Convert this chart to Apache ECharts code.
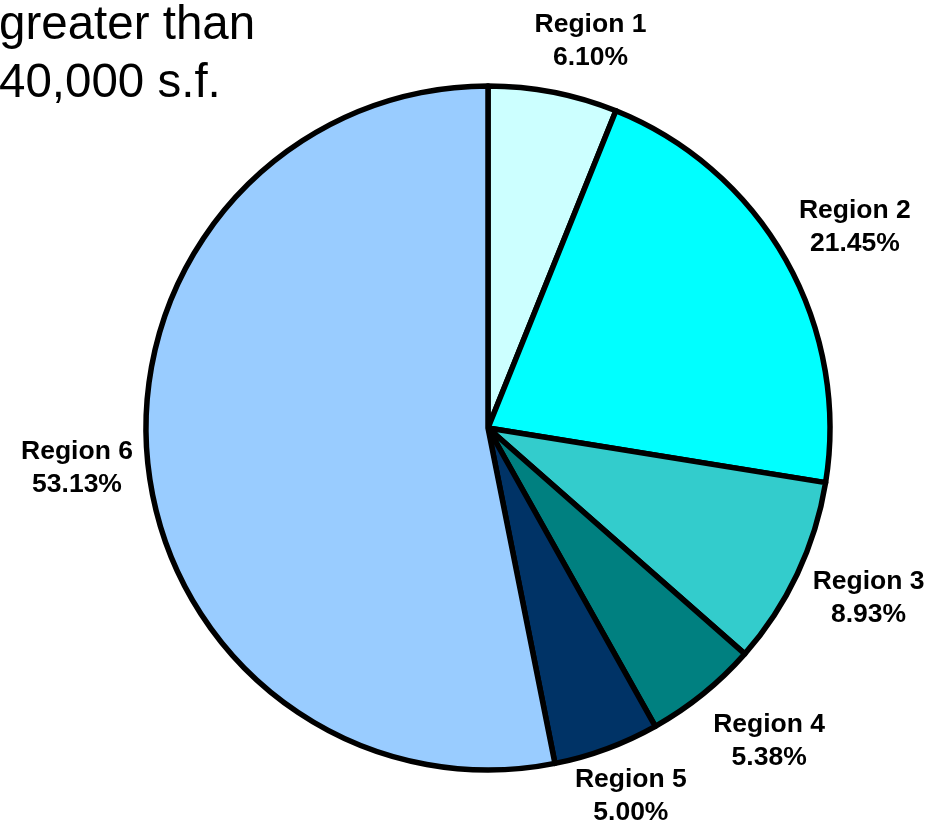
<!DOCTYPE html>
<html>
<head>
<meta charset="utf-8">
<script src="https://cdn.jsdelivr.net/npm/echarts@6/dist/echarts.min.js"></script>
<style>
  html, body { margin: 0; padding: 0; background: #fff; }
  #chart { width: 946px; height: 830px; }
</style>
</head>
<body>
<div id="chart"></div>
<script>
// Share of space by region (percent)
const regions = ['Region 1', 'Region 2', 'Region 3', 'Region 4', 'Region 5', 'Region 6'];
const shares = [6.10, 21.45, 8.93, 5.38, 5.00, 53.13];
const sliceColors = ['#CCFFFF', '#00FFFF', '#33CCCC', '#008080', '#003366', '#99CCFF'];

// Pie geometry and label placement
const CX = 488, CY = 428, R = 342;
const LABEL_DIST = 412;
const labelNudge = [[24, 18], [8, 2], [8, -6], [22, -7], [0, -18], [-1, 0]];

const total = shares.reduce((a, b) => a + b, 0);
const midAngles = [];
let acc = 0;
shares.forEach(v => {
  midAngles.push(((acc + v / 2) / total) * Math.PI * 2);
  acc += v;
});

const chart = echarts.init(document.getElementById('chart'));
chart.setOption({
  animation: false,
  title: {
    text: 'greater than\n40,000 s.f.',
    left: -6,
    top: -8,
    textStyle: {
      fontFamily: 'Liberation Sans, Arial, sans-serif',
      fontSize: 47.5,
      fontWeight: 'normal',
      color: '#000',
      lineHeight: 58
    }
  },
  series: [{
    type: 'pie',
    center: [CX, CY],
    radius: [0, R],
    startAngle: 90,
    clockwise: true,
    avoidLabelOverlap: false,
    data: regions.map((name, i) => ({
      name,
      value: shares[i],
      itemStyle: { color: sliceColors[i] }
    })),
    itemStyle: { borderColor: '#000', borderWidth: 5.5, borderJoin: 'round' },
    label: {
      show: true,
      position: 'outside',
      formatter: p => p.name + '\n' + p.value.toFixed(2) + '%',
      fontFamily: 'Liberation Sans, Arial, sans-serif',
      fontSize: 26.5,
      fontWeight: 'bold',
      color: '#000',
      lineHeight: 33
    },
    labelLine: { show: false },
    labelLayout: params => {
      const i = params.dataIndex;
      const a = midAngles[i];
      return {
        x: CX + LABEL_DIST * Math.sin(a) + labelNudge[i][0],
        y: CY - LABEL_DIST * Math.cos(a) + labelNudge[i][1],
        align: 'center',
        verticalAlign: 'middle'
      };
    },
    emphasis: { disabled: true }
  }]
});
</script>
</body>
</html>
